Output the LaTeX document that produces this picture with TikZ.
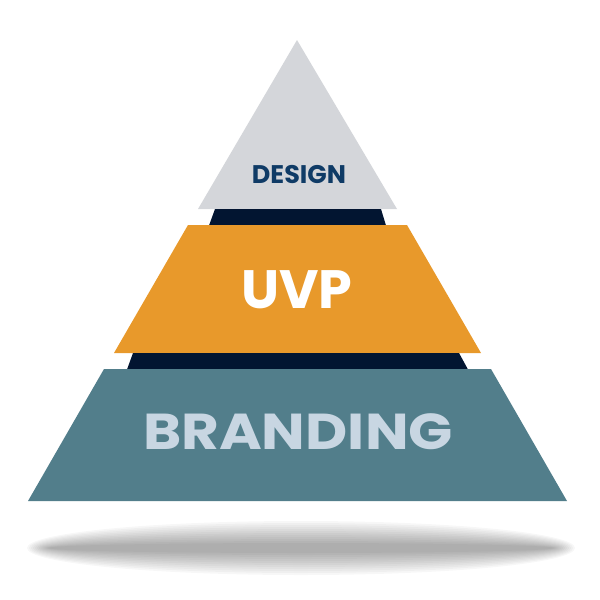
\documentclass[tikz,border=0pt]{standalone}
\usepackage{fontspec}
\newfontfamily\pop{Poppins}
\definecolor{topgray}{HTML}{D4D6DA}
\definecolor{navyband}{HTML}{021531}
\definecolor{uvporange}{HTML}{E8992B}
\definecolor{brandteal}{HTML}{527E8B}
\definecolor{designtxt}{HTML}{0F3B66}
\definecolor{brandtxt}{HTML}{C8D6E2}
\tikzset{
  lbl/.style={anchor=base, inner sep=0pt, font=\pop\bfseries},
  tier/.style={draw=none}
}
\begin{document}
\begin{tikzpicture}[x=1pt,y=-1pt]
\useasboundingbox (0,0) rectangle (600,600);
% shadow
\foreach \o in {0,...,11}{
  \fill[black, fill opacity=0.032] (301,548) ellipse ({252+2*\o} and {5+2*\o});
}
% tiers
\fill[tier, fill=topgray] (297,40) -- (397,209) -- (198,209) -- cycle;
\fill[tier, fill=navyband] (215,209) -- (381,209) -- (386,225.5) -- (209,225.5) -- cycle;
\fill[tier, fill=uvporange] (188,225) -- (407,225) -- (481,353) -- (114,353) -- cycle;
\fill[tier, fill=navyband] (133,353) -- (459,353) -- (468,369.5) -- (127,369.5) -- cycle;
\fill[tier, fill=brandteal] (104,369) -- (491,369) -- (567,501) -- (28,501) -- cycle;
% labels
\node[lbl, text=designtxt, font=\pop\bfseries\fontsize{25.5}{26}\selectfont] (design) at (299,183) {DESIGN};
\node[lbl, text=white, font=\pop\bfseries\fontsize{54}{56}\selectfont] (uvp) at (297,308) {UVP};
\node[lbl, text=brandtxt, font=\pop\bfseries\fontsize{50.5}{52}\selectfont, xscale=1.15] (branding) at (298,449) {BRANDING};
\end{tikzpicture}
\end{document}
